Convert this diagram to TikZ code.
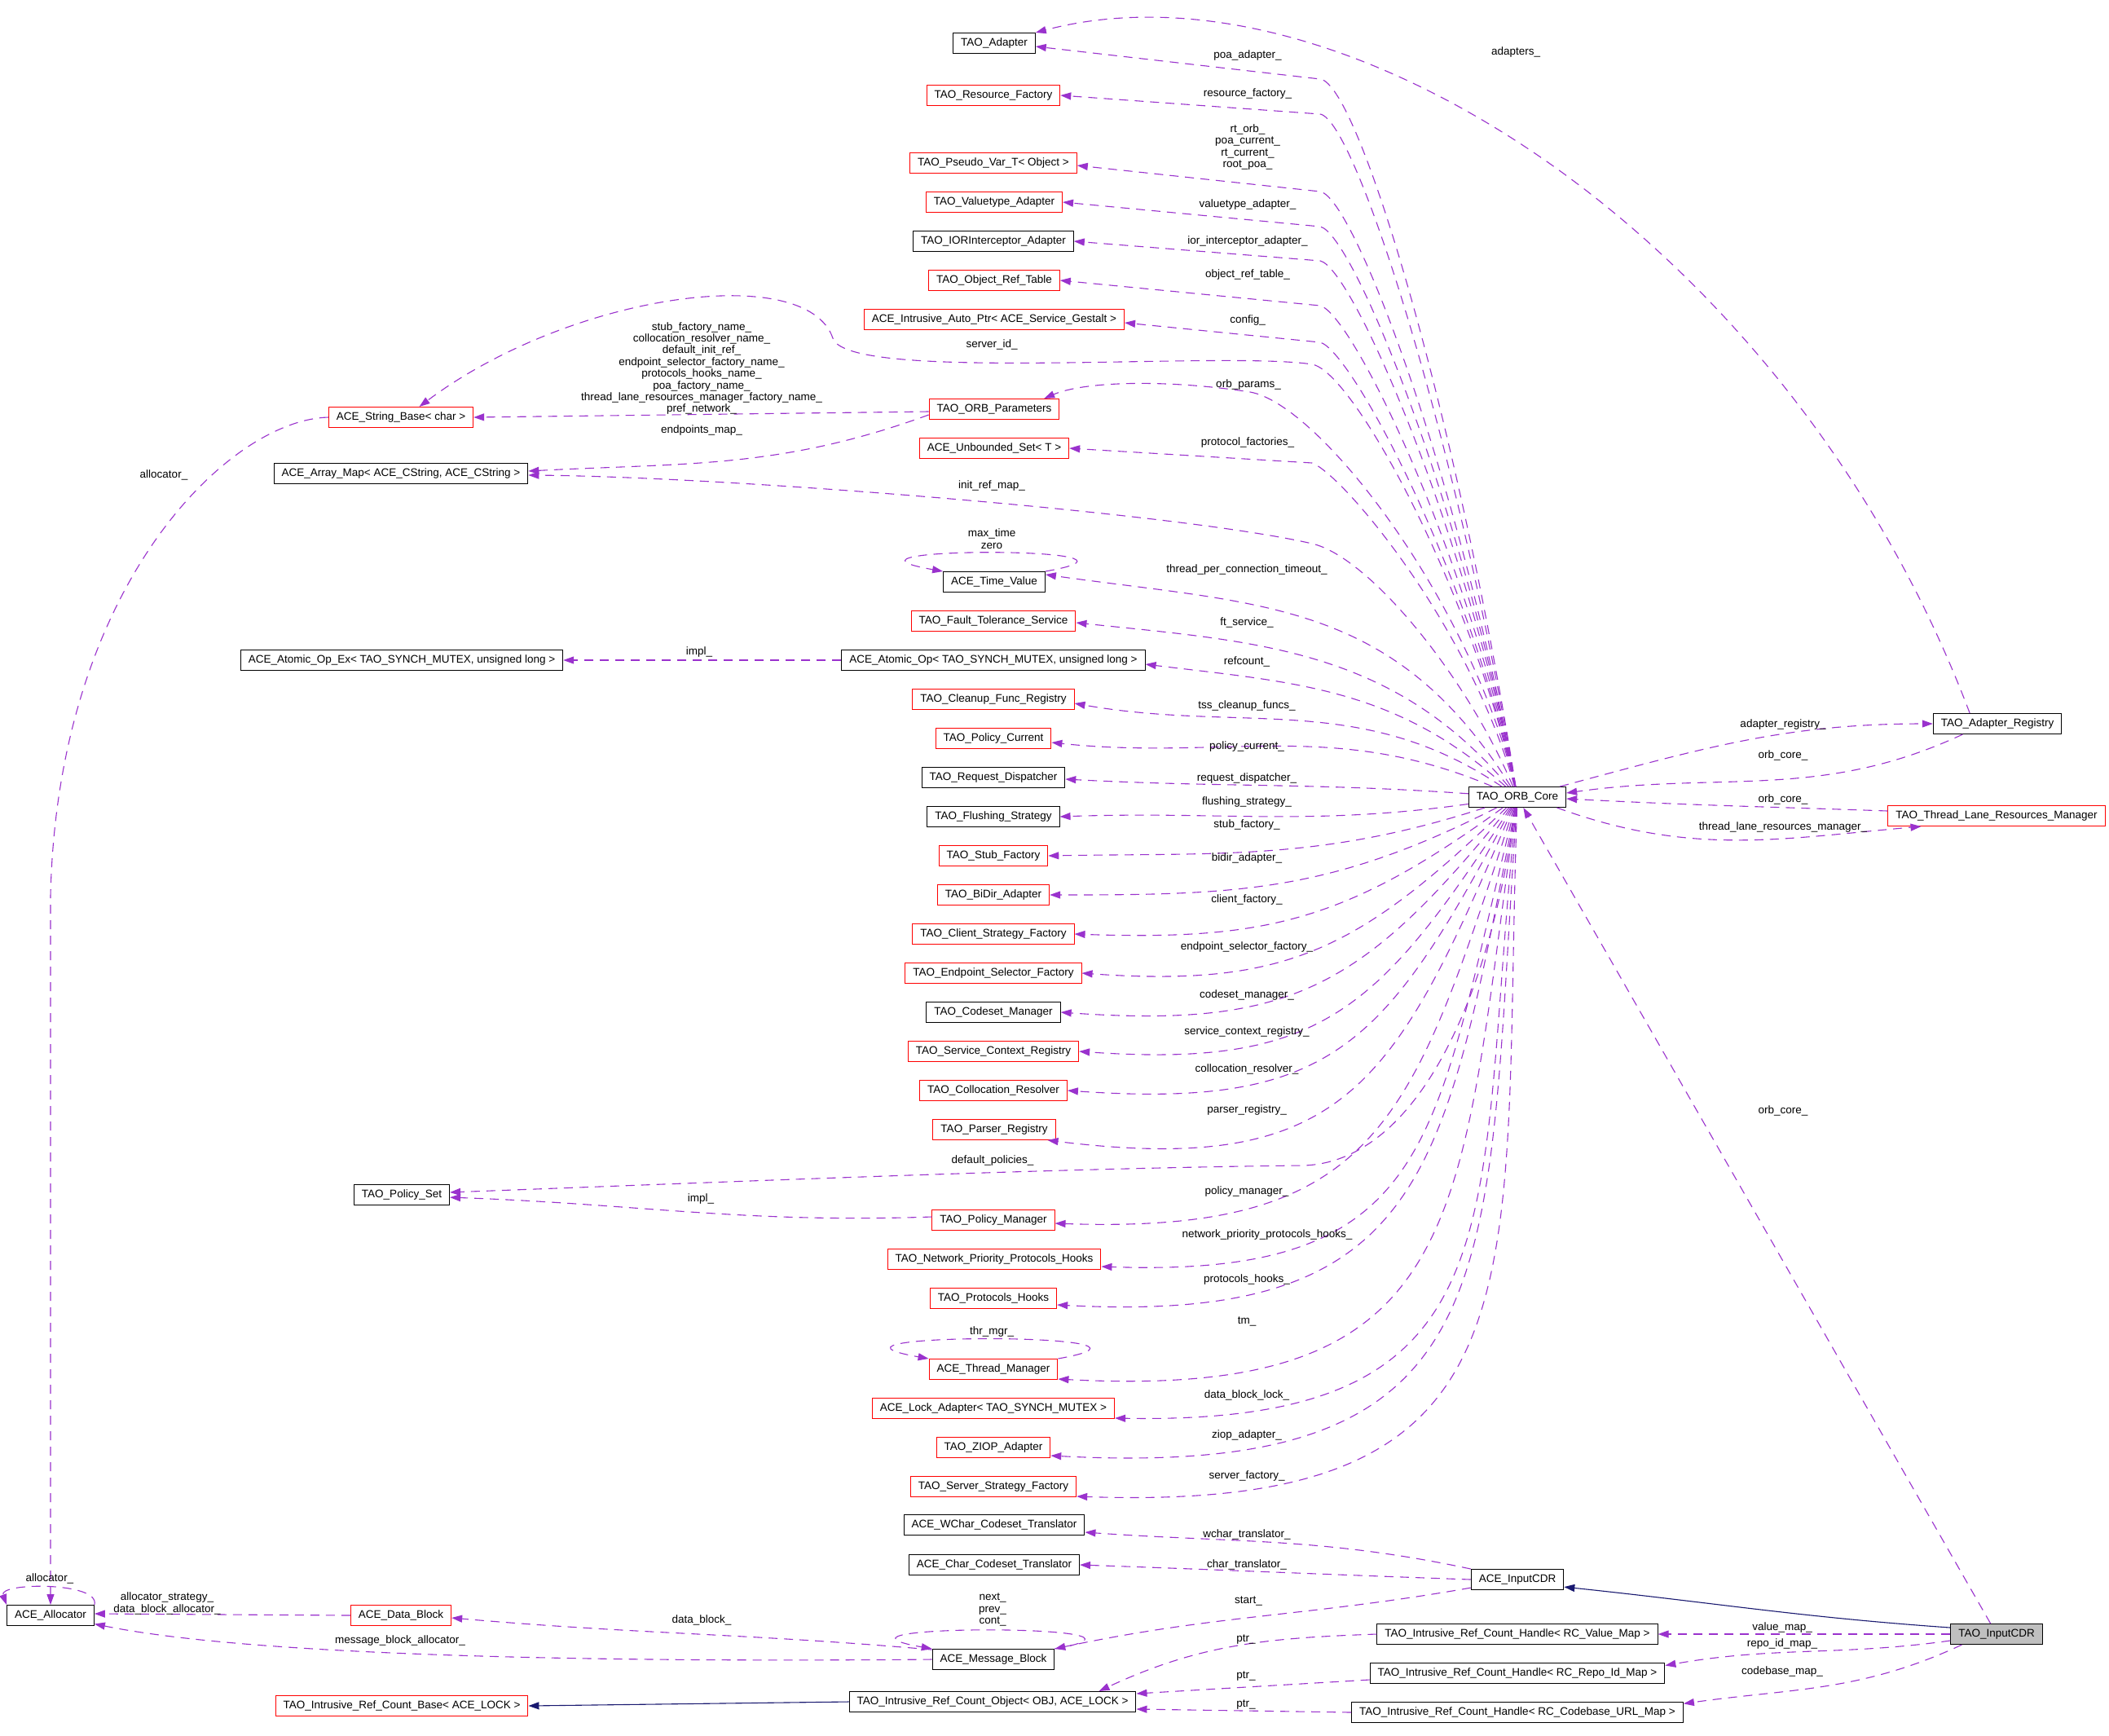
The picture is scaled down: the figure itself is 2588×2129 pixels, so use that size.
\documentclass[tikz,border=0pt]{standalone}
\usepackage{fontspec}
\setmainfont{Liberation Sans}
\usetikzlibrary{arrows.meta}
\definecolor{edgepurple}{HTML}{9A32CD}
\definecolor{inhnavy}{HTML}{191970}
\definecolor{boxred}{HTML}{FF0000}
\definecolor{cdrgray}{HTML}{BFBFBF}
\begin{document}
\begin{tikzpicture}[x=1pt,y=-1pt,
  every node/.style={font=\fontsize{13.5pt}{14.4pt}\selectfont},
  cls/.style={draw=black, line width=1pt, minimum height=25pt, inner xsep=9.5pt, inner ysep=0pt, fill=white, text=black},
  redcls/.style={cls, draw=boxred},
  cdrcls/.style={cls, fill=cdrgray},
  member/.style={draw=edgepurple, line width=1.1pt, dash pattern=on 11pt off 8pt, -{Triangle[length=13pt,width=9pt]}},
  inherit/.style={draw=inhnavy, line width=1.1pt, -{Triangle[length=13pt,width=9pt]}},
  lbl/.style={align=center, inner sep=0pt},
]
\fill[white] (0,0) rectangle (2588,2129);
\useasboundingbox (0,0) rectangle (2588,2129);

% ---------------- nodes
\node[cls] (adapter) at (1220,53) {TAO\_Adapter};
\node[redcls] (resfac) at (1219,117) {TAO\_Resource\_Factory};
\node[redcls] (pseudovar) at (1219,200) {TAO\_Pseudo\_Var\_T< Object >};
\node[redcls] (valuetype) at (1220,248) {TAO\_Valuetype\_Adapter};
\node[cls] (iorint) at (1219,296) {TAO\_IORInterceptor\_Adapter};
\node[redcls] (objref) at (1220,344) {TAO\_Object\_Ref\_Table};
\node[redcls] (autoptr) at (1220,392) {ACE\_Intrusive\_Auto\_Ptr< ACE\_Service\_Gestalt >};
\node[redcls] (orbparams) at (1220,502) {TAO\_ORB\_Parameters};
\node[redcls] (unbset) at (1220,550) {ACE\_Unbounded\_Set< T >};
\node[redcls] (stringbase) at (492,512) {ACE\_String\_Base< char >};
\node[cls] (arraymap) at (492,581) {ACE\_Array\_Map< ACE\_CString, ACE\_CString >};
\node[cls] (timevalue) at (1220,714) {ACE\_Time\_Value};
\node[redcls] (ftsvc) at (1219,762) {TAO\_Fault\_Tolerance\_Service};
\node[cls] (atomicop) at (1219,810) {ACE\_Atomic\_Op< TAO\_SYNCH\_MUTEX, unsigned long >};
\node[cls] (atomicopex) at (493,810) {ACE\_Atomic\_Op\_Ex< TAO\_SYNCH\_MUTEX, unsigned long >};
\node[redcls] (cleanup) at (1219,858) {TAO\_Cleanup\_Func\_Registry};
\node[redcls] (polcur) at (1219,906) {TAO\_Policy\_Current};
\node[cls] (reqdisp) at (1219,954) {TAO\_Request\_Dispatcher};
\node[cls] (flush) at (1219,1002) {TAO\_Flushing\_Strategy};
\node[redcls] (stubfac) at (1219,1050) {TAO\_Stub\_Factory};
\node[redcls] (bidir) at (1219,1098) {TAO\_BiDir\_Adapter};
\node[redcls] (clientfac) at (1219,1146) {TAO\_Client\_Strategy\_Factory};
\node[redcls] (endpsel) at (1219,1194) {TAO\_Endpoint\_Selector\_Factory};
\node[cls] (codeset) at (1219,1242) {TAO\_Codeset\_Manager};
\node[redcls] (svcctx) at (1219,1290) {TAO\_Service\_Context\_Registry};
\node[redcls] (colloc) at (1219,1338) {TAO\_Collocation\_Resolver};
\node[redcls] (parser) at (1220,1386) {TAO\_Parser\_Registry};
\node[cls] (policyset) at (493,1466) {TAO\_Policy\_Set};
\node[redcls] (policymgr) at (1219,1497) {TAO\_Policy\_Manager};
\node[redcls] (netprio) at (1220,1545) {TAO\_Network\_Priority\_Protocols\_Hooks};
\node[redcls] (prothooks) at (1219,1593) {TAO\_Protocols\_Hooks};
\node[redcls] (thrmgr) at (1219,1680) {ACE\_Thread\_Manager};
\node[redcls] (lockadapt) at (1219,1728) {ACE\_Lock\_Adapter< TAO\_SYNCH\_MUTEX >};
\node[redcls] (ziop) at (1219,1776) {TAO\_ZIOP\_Adapter};
\node[redcls] (serverfac) at (1219,1824) {TAO\_Server\_Strategy\_Factory};
\node[cls] (wchar) at (1220,1871) {ACE\_WChar\_Codeset\_Translator};
\node[cls] (chartrans) at (1220,1920) {ACE\_Char\_Codeset\_Translator};
\node[cls] (msgblock) at (1219,2036) {ACE\_Message\_Block};
\node[cls] (refobj) at (1218,2088) {TAO\_Intrusive\_Ref\_Count\_Object< OBJ, ACE\_LOCK >};
\node[redcls] (refbase) at (493,2093) {TAO\_Intrusive\_Ref\_Count\_Base< ACE\_LOCK >};
\node[cls] (allocator) at (62,1982) {ACE\_Allocator};
\node[redcls] (datablock) at (492,1982) {ACE\_Data\_Block};
\node[cls] (core) at (1862,978) {TAO\_ORB\_Core};
\node[cls] (adreg) at (2451,888) {TAO\_Adapter\_Registry};
\node[redcls] (tlrm) at (2450,1001) {TAO\_Thread\_Lane\_Resources\_Manager};
\node[cls] (acecdr) at (1862,1938) {ACE\_InputCDR};
\node[cls] (valuemap) at (1862,2005) {TAO\_Intrusive\_Ref\_Count\_Handle< RC\_Value\_Map >};
\node[cls] (repoid) at (1862,2053) {TAO\_Intrusive\_Ref\_Count\_Handle< RC\_Repo\_Id\_Map >};
\node[cls] (codebase) at (1862,2101) {TAO\_Intrusive\_Ref\_Count\_Handle< RC\_Codebase\_URL\_Map >};
\node[cdrcls] (tinputcdr) at (2450,2005) {TAO\_InputCDR};

% ---------------- member edges from TAO_ORB_Core (upper)
\draw[member] (core) .. controls (1790,520) and (1668,103) .. (1620,97) -- ([yshift=-4pt]adapter.east);
\draw[member] (core) .. controls (1792,560) and (1665,148) .. (1620,140) -- (resfac.east);
\draw[member] (core) .. controls (1794,600) and (1663,243) .. (1620,235) -- ([yshift=-3pt]pseudovar.east);
\draw[member] (core) .. controls (1796,625) and (1661,287) .. (1620,278) -- (valuetype.east);
\draw[member] (core) .. controls (1798,650) and (1660,329) .. (1620,320) -- (iorint.east);
\draw[member] (core) .. controls (1800,675) and (1659,385) .. (1620,375) -- (objref.east);
\draw[member] (core) .. controls (1802,700) and (1658,430) .. (1620,420) -- ([yshift=-4pt]autoptr.east);
\draw[member] (core) .. controls (1804,720) and (1660,455) .. (1610,447)
   .. controls (1500,430) and (1040,470) .. (1022,415)
   .. controls (990,320) and (700,360) .. (stringbase.30);
\draw[member] (core) .. controls (1806,740) and (1620,496) .. (1534,481)
   .. controls (1430,465) and (1330,468) .. (orbparams.12);
\draw[member] (core) .. controls (1805,770) and (1648,582) .. (1610,568) -- (unbset.east);
\draw[member] (core) .. controls (1800,830) and (1680,683) .. (1610,667)
   .. controls (1450,630) and (900,585) .. ([yshift=-2pt]arraymap.east);
\draw[member] (core) to[out=122,in=-8,looseness=1.1] ([yshift=-4pt]timevalue.north east);
\draw[member] (core) to[out=130,in=-6,looseness=1.0] ([yshift=-2pt]ftsvc.east);
\draw[member] (core) to[out=138,in=-7,looseness=1.0] ([yshift=-5pt]atomicop.east);
\draw[member] (core) to[out=146,in=-10,looseness=1.0] ([yshift=-5pt]cleanup.east);
\draw[member] (core) to[out=157,in=-6,looseness=1.0] ([yshift=-5pt]polcur.east);
\draw[member] (core) to[out=176,in=-3,looseness=1.0] ([yshift=-2pt]reqdisp.east);
% ---------------- member edges from TAO_ORB_Core (lower)
\draw[member] (core) to[out=188,in=2,looseness=1.0] (flush.east);
\draw[member] (core) to[out=198,in=1,looseness=1.0] (stubfac.east);
\draw[member] (core) to[out=207,in=0,looseness=1.05] (bidir.east);
\draw[member] (core) to[out=216,in=-2,looseness=1.1] (clientfac.east);
\draw[member] (core) to[out=224,in=-4,looseness=1.15] (endpsel.east);
\draw[member] (core) to[out=231,in=-4,looseness=1.2] (codeset.east);
\draw[member] (core) to[out=237,in=-4,looseness=1.25] (svcctx.east);
\draw[member] (core) to[out=242,in=-4,looseness=1.3] (colloc.east);
\draw[member] (core) to[out=247,in=-7,looseness=1.35] ([xshift=-10pt]parser.south east);
\draw[member] (core.258) .. controls (1830,1220) and (1740,1425) .. (1600,1430)
   .. controls (1300,1433) and (900,1450) .. (policyset.3);
\draw[member] (core) to[out=252,in=-2,looseness=1.35] ([yshift=-4pt]policymgr.east);
\draw[member] (core) to[out=256,in=-2,looseness=1.4] ([yshift=4pt]netprio.south east);
\draw[member] (core) to[out=259,in=-3,looseness=1.4] ([yshift=5pt]prothooks.south east);
\draw[member] (core) to[out=262,in=-3,looseness=1.45] ([yshift=1pt]thrmgr.south east);
\draw[member] (core) to[out=264,in=-1,looseness=1.45] ([yshift=1pt]lockadapt.south east);
\draw[member] (core) to[out=266,in=-3,looseness=1.5] ([yshift=3pt]ziop.south east);
\draw[member] (core) to[out=268,in=-2,looseness=1.5] ([yshift=1pt]serverfac.south east);

% ---------------- right side
\draw[member] ([xshift=-8pt]core.north east) to[out=15,in=180] (adreg.west);
\draw[member] (adreg.197) to[out=205,in=8] ([yshift=5pt]core.east);
\draw[member] ([yshift=6pt]tlrm.west) to[out=178,in=-3] ([yshift=-2pt]core.east);
\draw[member] (core.-15) to[out=-20,in=185] (tlrm.188);
\draw[member] (adreg.159) .. controls (2200,300) and (1650,-60) .. (adapter.north east);
\draw[member] (tinputcdr) -- (core);

% ---------------- ORB parameters
\draw[member] ([yshift=-3pt]orbparams.west) -- (stringbase.east);
\draw[member] ([yshift=-7pt]orbparams.west) to[out=200,in=3,looseness=1] ([yshift=3pt]arraymap.east);
\draw[member] (stringbase.west) .. controls (280,515) and (70,720) .. (62,1100) -- (allocator.north);

% ---------------- loops
\draw[member] (timevalue.north east) to[out=10,in=170,looseness=3.6] (timevalue.north west);
\draw[member] (thrmgr.north east) to[out=10,in=170,looseness=3.0] (thrmgr.north west);
\draw[member] (msgblock.north east) to[out=10,in=170,looseness=3.0] (msgblock.north west);
\draw[member] (allocator.north east) to[out=75,in=110,looseness=0.7] (allocator.north west);

% ---------------- misc
\draw[member] (atomicop.west) -- (atomicopex.east);
\draw[member] ([yshift=4pt]policymgr.west) to[out=182,in=-2] (policyset.-3);
\draw[member] (datablock.west) -- ([yshift=2pt]allocator.east);
\draw[member] (msgblock.171) to[out=175,in=-5] ([yshift=-3pt]datablock.east);
\draw[member] (msgblock.west) .. controls (700,2040) and (300,2030) .. (allocator.-11);
\draw[member] (acecdr.190) to[out=190,in=12] (msgblock.north east);
\draw[member] (acecdr.north west) to[out=168,in=-4] ([yshift=-9pt]wchar.east);
\draw[member] (acecdr.west) to[out=178,in=-2] (chartrans.east);
\draw[inherit] (tinputcdr.172) to[out=176,in=-6] (acecdr.-9);
\draw[member] (tinputcdr.west) -- (valuemap.east);
\draw[member] (tinputcdr.188) to[out=188,in=10] (repoid.3);
\draw[member] (tinputcdr.197) to[out=205,in=8] (codebase.3);
\draw[member] (valuemap.west) to[out=182,in=25] ([xshift=-46pt]refobj.north east);
\draw[member] ([yshift=-8pt]repoid.west) -- ([yshift=10pt]refobj.east);
\draw[member] (codebase.west) -- ([yshift=-9pt]refobj.east);
\draw[inherit] (refobj.west) -- (refbase.east);

% ---------------- labels
\node[lbl] at (1531,68) {poa\_adapter\_};
\node[lbl] at (1531,115) {resource\_factory\_};
\node[lbl] at (1531,180.5) {rt\_orb\_\\poa\_current\_\\rt\_current\_\\root\_poa\_};
\node[lbl] at (1531,251) {valuetype\_adapter\_};
\node[lbl] at (1531,296) {ior\_interceptor\_adapter\_};
\node[lbl] at (1531,337) {object\_ref\_table\_};
\node[lbl] at (1531,393) {config\_};
\node[lbl] at (1217,423) {server\_id\_};
\node[lbl] at (1532,472) {orb\_params\_};
\node[lbl] at (1531,543) {protocol\_factories\_};
\node[lbl] at (1217,596) {init\_ref\_map\_};
\node[lbl] at (1217,661) {max\_time\\zero};
\node[lbl] at (1530,699) {thread\_per\_connection\_timeout\_};
\node[lbl] at (1530,764) {ft\_service\_};
\node[lbl] at (1530,812) {refcount\_};
\node[lbl] at (1530,866) {tss\_cleanup\_funcs\_};
\node[lbl] at (858,800) {impl\_};
\node[lbl] at (861,452) {stub\_factory\_name\_\\collocation\_resolver\_name\_\\default\_init\_ref\_\\endpoint\_selector\_factory\_name\_\\protocols\_hooks\_name\_\\poa\_factory\_name\_\\thread\_lane\_resources\_manager\_factory\_name\_\\pref\_network\_};
\node[lbl] at (861,528) {endpoints\_map\_};
\node[lbl] at (201,583) {allocator\_};
\node[lbl] at (1530,916) {policy\_current\_};
\node[lbl] at (1530,955) {request\_dispatcher\_};
\node[lbl] at (1530,984) {flushing\_strategy\_};
\node[lbl] at (1530,1012) {stub\_factory\_};
\node[lbl] at (1530,1053) {bidir\_adapter\_};
\node[lbl] at (1530,1104) {client\_factory\_};
\node[lbl] at (1530,1162) {endpoint\_selector\_factory\_};
\node[lbl] at (1530,1221) {codeset\_manager\_};
\node[lbl] at (1530,1266) {service\_context\_registry\_};
\node[lbl] at (1530,1312) {collocation\_resolver\_};
\node[lbl] at (1530,1362) {parser\_registry\_};
\node[lbl] at (1218,1424) {default\_policies\_};
\node[lbl] at (860,1471) {impl\_};
\node[lbl] at (1530,1462) {policy\_manager\_};
\node[lbl] at (1555,1515) {network\_priority\_protocols\_hooks\_};
\node[lbl] at (1530,1570) {protocols\_hooks\_};
\node[lbl] at (1217,1634) {thr\_mgr\_};
\node[lbl] at (1530,1621) {tm\_};
\node[lbl] at (1530,1712) {data\_block\_lock\_};
\node[lbl] at (1530,1761) {ziop\_adapter\_};
\node[lbl] at (1530,1811) {server\_factory\_};
\node[lbl] at (1530,1883) {wchar\_translator\_};
\node[lbl] at (1530,1920) {char\_translator\_};
\node[lbl] at (1532,1964) {start\_};
\node[lbl] at (1218,1975) {next\_\\prev\_\\cont\_};
\node[lbl] at (1529,2012) {ptr\_};
\node[lbl] at (1529,2057) {ptr\_};
\node[lbl] at (1529,2092) {ptr\_};
\node[lbl] at (2187,1997) {value\_map\_};
\node[lbl] at (2187,2017) {repo\_id\_map\_};
\node[lbl] at (2187,2051) {codebase\_map\_};
\node[lbl] at (2188,889) {adapter\_registry\_};
\node[lbl] at (2188,927) {orb\_core\_};
\node[lbl] at (2188,981) {orb\_core\_};
\node[lbl] at (2188,1015) {thread\_lane\_resources\_manager\_};
\node[lbl] at (1860,64) {adapters\_};
\node[lbl] at (2188,1363) {orb\_core\_};
\node[lbl] at (61,1937) {allocator\_};
\node[lbl] at (205,1967.5) {allocator\_strategy\_\\data\_block\_allocator\_};
\node[lbl] at (861,1988) {data\_block\_};
\node[lbl] at (491,2013) {message\_block\_allocator\_};
\end{tikzpicture}
\end{document}
